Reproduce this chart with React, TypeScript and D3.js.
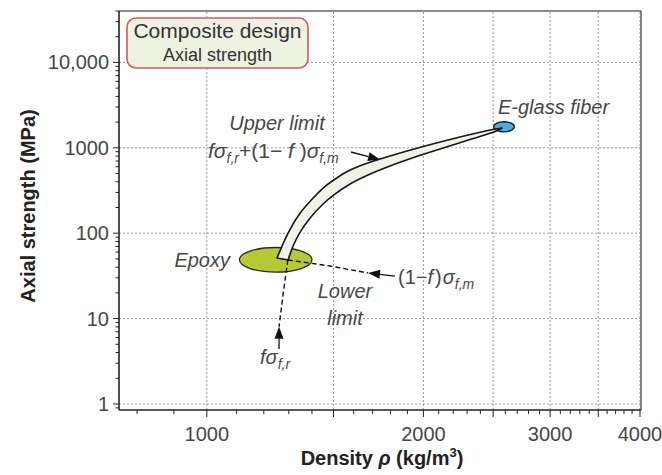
import * as d3 from "d3";

// Axis ticks and labels
const yLabelTicks = [1, 10, 100, 1000, 10000];
const yLabelText = ["1", "10", "100", "1000", "10,000"];
const xLabelTicks = [1000, 2000, 3000, 4000];
const xGridTicks = [1000, 1500, 2000, 2500, 3000, 3500, 4000];

// Material bubbles: density range (kg/m3) and axial strength range (MPa)
const epoxyDensity = [1110, 1400];
const epoxyStrength = [35, 68];
const fiberDensity = [2505, 2675];
const fiberStrength = [1540, 2020];

// Composite band (upper-left edge and lower-right edge)
const upperEdgeDensity = [1252, 1297, 1348, 1401, 1451, 1508, 1572, 1644, 1741, 1856, 2023, 2248, 2499, 2572];
const upperEdgeStrength = [51.2, 100.5, 172, 251, 338, 431, 535, 629, 739, 869, 1064, 1338, 1638, 1706];
const lowerEdgeDensity = [1297, 1318, 1348, 1392, 1446, 1508, 1582, 1675, 1797, 1948, 2109, 2321, 2515, 2572];
const lowerEdgeStrength = [48.5, 70.8, 103, 151, 214, 288, 377, 480, 612, 780, 968, 1251, 1552, 1706];

// Lower limit construction lines
const matrixLineDensity = [1296, 1483, 1675];
const matrixLineStrength = [48.6, 41.3, 34.2];
const fiberLineDensity = [1296, 1276, 1260];
const fiberLineStrength = [48.6, 18.9, 8.0];

// Arrows: [tail, tip] as [density, strength]
const upperArrow = [[1586, 893], [1741, 729]];
const matrixArrow = [[1826, 31.5], [1675, 34.2]];
const fiberArrow = [[1260, 4.4], [1260, 8.0]];

const W = 662;
const H = 475;
const font = "'Liberation Sans', Arial, Helvetica, sans-serif";
const ink = "#474747";

const zip = (a: number[], b: number[]) => a.map((v, i) => [v, b[i]] as [number, number]);

export default function App() {
  const x = d3.scaleLog().domain([755, 4000]).range([119, 640]);
  const y = d3.scaleLog().domain([0.85, 40000]).range([410, 11]);
  const [x0, x1] = x.range();
  const [y0, y1] = y.range();

  const line = d3
    .line<[number, number]>()
    .x((d) => x(d[0]))
    .y((d) => y(d[1]))
    .curve(d3.curveCatmullRom);
  const straight = d3
    .line<[number, number]>()
    .x((d) => x(d[0]))
    .y((d) => y(d[1]));

  // band outline: upper edge forward then lower edge back
  const upper = line(zip(upperEdgeDensity, upperEdgeStrength)) || "";
  const lowerBack = line(zip(lowerEdgeDensity, lowerEdgeStrength).reverse()) || "";
  const bandPath = upper + "L" + lowerBack.slice(1) + "Z";

  const yMinor = y.ticks().filter((t) => !yLabelTicks.includes(t));
  const xMinor = d3.range(800, 4001, 100);

  const bubble = (dr: number[], sr: number[]) => ({
    cx: (x(dr[0]) + x(dr[1])) / 2,
    rx: (x(dr[1]) - x(dr[0])) / 2,
    cy: (y(sr[0]) + y(sr[1])) / 2,
    ry: (y(sr[0]) - y(sr[1])) / 2,
  });
  const epoxy = bubble(epoxyDensity, epoxyStrength);
  const fiber = bubble(fiberDensity, fiberStrength);

  // filled arrow head at the tip, solid shaft from tail
  const arrow = (pts: number[][], key: string) => {
    const [tx, ty] = [x(pts[0][0]), y(pts[0][1])];
    const [hx, hy] = [x(pts[1][0]), y(pts[1][1])];
    const ang = Math.atan2(hy - ty, hx - tx);
    const len = 12;
    const half = 4.5;
    const bx = hx - len * Math.cos(ang);
    const by = hy - len * Math.sin(ang);
    const px = -Math.sin(ang) * half;
    const py = Math.cos(ang) * half;
    return (
      <g key={key}>
        <line x1={tx} y1={ty} x2={bx} y2={by} stroke="#111" strokeWidth={1.3} />
        <polygon points={`${hx},${hy} ${bx + px},${by + py} ${bx - px},${by - py}`} fill="#111" />
      </g>
    );
  };

  return (
    <svg width={W} height={H} style={{ position: "absolute", left: 0, top: 0, background: "#fff" }} fontFamily={font}>
      {/* grid */}
      <g stroke="#999" strokeWidth={1} strokeDasharray="2 2">
        {yLabelTicks.map((t) => (
          <line key={"gy" + t} x1={x0} x2={x1} y1={y(t)} y2={y(t)} />
        ))}
        {xGridTicks.map((t) => (
          <line key={"gx" + t} x1={x(t)} x2={x(t)} y1={y0} y2={y1} />
        ))}
      </g>

      {/* frame */}
      <line x1={x0} x2={x1 + 1} y1={y1} y2={y1} stroke="#666" strokeWidth={1.6} />
      <line x1={x1 + 1} x2={x1 + 1} y1={y1} y2={y0} stroke="#666" strokeWidth={1.6} />
      <line x1={x0} x2={x0} y1={y1} y2={y0} stroke="#222" strokeWidth={1.6} />
      <line x1={x0} x2={x1 + 1} y1={y0} y2={y0} stroke="#222" strokeWidth={1.6} />

      {/* ticks */}
      <g stroke="#222" strokeWidth={1}>
        {yLabelTicks.map((t) => (
          <line key={"ty" + t} x1={x0 - 6} x2={x0} y1={y(t)} y2={y(t)} />
        ))}
        {yMinor.map((t) => (
          <line key={"my" + t} x1={x0 - 3.5} x2={x0} y1={y(t)} y2={y(t)} />
        ))}
        {xMinor.map((t) => (
          <line key={"tx" + t} x1={x(t)} x2={x(t)} y1={y0} y2={y0 + (t % 500 === 0 ? 7 : 4)} />
        ))}
      </g>
      <g fontSize={20} fill={ink}>
        {yLabelTicks.map((t, i) => (
          <text key={"ly" + t} x={x0 - 10} y={y(t) + 7} textAnchor="end">
            {yLabelText[i]}
          </text>
        ))}
        {xLabelTicks.map((t) => (
          <text key={"lx" + t} x={x(t)} y={441} textAnchor="middle">
            {t}
          </text>
        ))}
      </g>

      {/* axis titles */}
      <text transform={`translate(35,206) rotate(-90)`} textAnchor="middle" fontSize={20} fontWeight="bold" fill="#222">
        Axial strength (MPa)
      </text>
      <text x={382} y={465} textAnchor="middle" fontSize={20} fontWeight="bold" fill="#222">
        Density <tspan fontStyle="italic">ρ</tspan> (kg/m
        <tspan fontSize={13} dy={-8}>3</tspan>
        <tspan dy={8}>)</tspan>
      </text>

      {/* title box */}
      <rect x={127} y={18} width={181} height={50} rx={9} fill="#eef2e1" stroke="#cf5b66" strokeWidth={1.6} />
      <text x={217.5} y={38} textAnchor="middle" fontSize={21} fill="#333">
        Composite design
      </text>
      <text x={217.5} y={61} textAnchor="middle" fontSize={18} fill="#333">
        Axial strength
      </text>

      {/* materials */}
      <ellipse {...epoxy} fill="#b7c836" stroke="#2a2a2a" strokeWidth={1.3} />
      <ellipse {...fiber} fill="#4aaee0" stroke="#1a1a1a" strokeWidth={1.3} />

      {/* composite band */}
      <path d={bandPath} fill="#f1f3e9" stroke="#161616" strokeWidth={1.6} strokeLinejoin="round" />

      {/* lower limit construction */}
      <g fill="none" stroke="#111" strokeWidth={1.4} strokeDasharray="5 3">
        <path d={straight(zip(matrixLineDensity, matrixLineStrength)) || ""} />
        <path d={straight(zip(fiberLineDensity, fiberLineStrength)) || ""} />
      </g>
      {arrow(upperArrow, "a1")}
      {arrow(matrixArrow, "a2")}
      {arrow(fiberArrow, "a3")}

      {/* annotations */}
      <g fill={ink} fontStyle="italic" fontSize={20}>
        <text x={277} y={130} textAnchor="middle">
          Upper limit
        </text>
        <text x={208} y={158} fontSize={21}>
          <tspan>fσ</tspan>
          <tspan fontSize={14} dy={5}>f,r</tspan>
          <tspan dy={-5} fontStyle="normal">+(1−</tspan>
          <tspan> f </tspan>
          <tspan fontStyle="normal">)</tspan>
          <tspan>σ</tspan>
          <tspan fontSize={14} dy={5}>f,m</tspan>
        </text>
        <text x={498} y={114}>E-glass fiber</text>
        <text x={230} y={267} textAnchor="end">
          Epoxy
        </text>
        <text x={345} y={298} textAnchor="middle">
          Lower
        </text>
        <text x={345} y={325} textAnchor="middle">
          limit
        </text>
        <text x={398} y={284}>
          <tspan fontStyle="normal">(1−</tspan>
          <tspan>f</tspan>
          <tspan fontStyle="normal" dx={2}>)</tspan>
          <tspan dx={1}>σ</tspan>
          <tspan fontSize={14} dy={5}>f,m</tspan>
        </text>
        <text x={260} y={364}>
          <tspan>fσ</tspan>
          <tspan fontSize={14} dy={5}>f,r</tspan>
        </text>
      </g>
    </svg>
  );
}
